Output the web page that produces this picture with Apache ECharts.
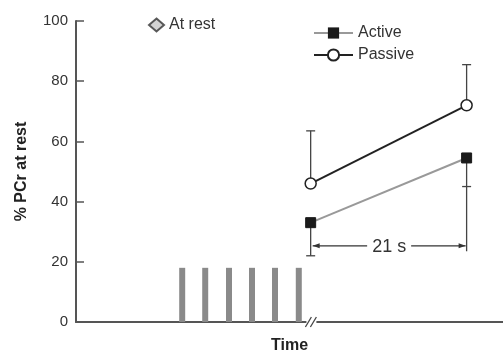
<!DOCTYPE html>
<html>
<head>
<meta charset="utf-8">
<script src="https://cdn.jsdelivr.net/npm/echarts@6/dist/echarts.min.js"></script>
<style>html,body{margin:0;padding:0;background:#fff}#c{width:503px;height:356px}</style>
</head>
<body>
<div id="c"></div>
<script>
// ---- data ----
var yTicks = [0, 20, 40, 60, 80, 100];
var pulseX = [14.3, 17.4, 20.6, 23.7, 26.8, 30.0];
var pulseH = [18, 18, 18, 18, 18, 18];
var timeX = [31.6, 52.6];
var activeY = [33, 54.5];
var passiveY = [46, 72];
var activeLow = [22, 45];
var passiveHigh = [63.5, 85.5];
var breakX = 31.7;
var dimension = { x1: 31.6, x2: 52.6, y: 25.3, bottom: 23.5, label: '21 s' };
var FONT = '"Liberation Sans", Arial, sans-serif';

var chart = echarts.init(document.getElementById('c'));

function errData(xs, ys, ends) { return xs.map(function (x, i) { return [x, ys[i], ends[i]]; }); }

function errRender(params, api) {
  var p0 = api.coord([api.value(0), api.value(1)]);
  var p1 = api.coord([api.value(0), api.value(2)]);
  return {
    type: 'group', children: [
      { type: 'line', shape: { x1: p0[0], y1: p0[1], x2: p1[0], y2: p1[1] }, style: { stroke: '#444', lineWidth: 1.3 } },
      { type: 'line', shape: { x1: p1[0] - 4.5, y1: p1[1], x2: p1[0] + 4.5, y2: p1[1] }, style: { stroke: '#444', lineWidth: 1.3 } }
    ]
  };
}

var option = {
  animation: false,
  textStyle: { fontFamily: FONT },
  grid: { left: 76, right: 0, top: 21, bottom: 34, containLabel: false, outerBoundsMode: 'none' },
  legend: [
    { left: 143, top: 12, itemWidth: 15, itemHeight: 13, itemGap: 5, data: ['At rest'],
      textStyle: { fontFamily: FONT, fontSize: 16, color: '#333' } },
    { left: 308, top: 20, orient: 'vertical', itemGap: 6, itemWidth: 39, itemHeight: 14,
      data: ['Active', 'Passive'], textStyle: { fontFamily: FONT, fontSize: 16, color: '#333' } }
  ],
  xAxis: {
    type: 'value', min: 0, max: 57.5,
    name: 'Time', nameLocation: 'middle', nameGap: 16,
    nameTextStyle: { fontFamily: FONT, fontSize: 16, fontWeight: 'bold', color: '#222' },
    axisLine: { lineStyle: { color: '#555', width: 2 } },
    axisTick: { show: false }, axisLabel: { show: false }, splitLine: { show: false }
  },
  yAxis: {
    type: 'value', min: yTicks[0], max: yTicks[yTicks.length - 1], interval: 20,
    name: '% PCr at rest', nameLocation: 'middle', nameGap: 46, nameRotate: 90,
    nameTextStyle: { fontFamily: FONT, fontSize: 16, fontWeight: 'bold', color: '#222' },
    axisLine: { show: true, lineStyle: { color: '#555', width: 2 } },
    axisTick: { show: true, inside: true, length: 8, lineStyle: { color: '#555', width: 1.5 } },
    axisLabel: { fontFamily: FONT, fontSize: 15, color: '#333', margin: 8 },
    splitLine: { show: false }
  },
  series: [
    { name: 'pulses', type: 'bar', barWidth: 6, z: 1,
      itemStyle: { color: '#8a8a8a' },
      data: pulseX.map(function (x, i) { return [x, pulseH[i]]; }) },
    { name: 'At rest', type: 'scatter', symbol: 'diamond', symbolSize: 13,
      itemStyle: { color: '#c8c8c8', borderColor: '#333', borderWidth: 1.5 }, data: [] },
    { name: 'errP', type: 'custom', z: 2, renderItem: errRender, data: errData(timeX, passiveY, passiveHigh) },
    { name: 'errA', type: 'custom', z: 2, renderItem: errRender, data: errData(timeX, activeY, activeLow) },
    { name: 'Active', type: 'line', z: 5, symbol: 'rect', symbolSize: 10,
      lineStyle: { color: '#999', width: 2 },
      itemStyle: { color: '#1a1a1a', borderColor: '#1a1a1a' },
      data: timeX.map(function (x, i) { return [x, activeY[i]]; }) },
    { name: 'Passive', type: 'line', z: 5, symbol: 'circle', symbolSize: 11,
      lineStyle: { color: '#222', width: 2 },
      itemStyle: { color: '#fff', borderColor: '#222', borderWidth: 1.5 },
      data: timeX.map(function (x, i) { return [x, passiveY[i]]; }) },
    { name: 'break', type: 'custom', z: 6, data: [[breakX, 0]],
      renderItem: function (params, api) {
        var p = api.coord([api.value(0), api.value(1)]);
        return { type: 'group', children: [
          { type: 'rect', shape: { x: p[0] - 5, y: p[1] - 3, width: 10, height: 6 }, style: { fill: '#fff' } },
          { type: 'line', shape: { x1: p[0] - 6, y1: p[1] + 5, x2: p[0], y2: p[1] - 5 }, style: { stroke: '#444', lineWidth: 1.3 } },
          { type: 'line', shape: { x1: p[0] - 1, y1: p[1] + 5, x2: p[0] + 5, y2: p[1] - 5 }, style: { stroke: '#444', lineWidth: 1.3 } }
        ] };
      } },
    { name: 'dimension', type: 'custom', z: 6,
      data: [[dimension.x1, dimension.x2, dimension.y, dimension.bottom, activeLow[1]]],
      renderItem: function (params, api) {
        var a = api.coord([api.value(0), api.value(2)]);
        var b = api.coord([api.value(1), api.value(2)]);
        var vb = api.coord([api.value(1), api.value(3)]);
        var vt = api.coord([api.value(1), api.value(4)]);
        var x1 = a[0] + 2, x2 = b[0] - 1, y = a[1];
        var mid = (x1 + x2) / 2;
        return { type: 'group', children: [
          { type: 'line', shape: { x1: vt[0], y1: vt[1], x2: vb[0], y2: vb[1] }, style: { stroke: '#444', lineWidth: 1.3 } },
          { type: 'line', shape: { x1: x1, y1: y, x2: x2, y2: y }, style: { stroke: '#333', lineWidth: 1.3 } },
          { type: 'polygon', shape: { points: [[x1, y], [x1 + 7, y - 2.5], [x1 + 7, y + 2.5]] }, style: { fill: '#333' } },
          { type: 'polygon', shape: { points: [[x2, y], [x2 - 7, y - 2.5], [x2 - 7, y + 2.5]] }, style: { fill: '#333' } },
          { type: 'rect', shape: { x: mid - 22, y: y - 10, width: 44, height: 20 }, style: { fill: '#fff' } },
          { type: 'text', x: mid, y: y + 1, style: { text: dimension.label, font: '18px ' + FONT, fill: '#333', align: 'center', verticalAlign: 'middle' } }
        ] };
      } }
  ]
};
chart.setOption(option);
</script>
</body>
</html>
